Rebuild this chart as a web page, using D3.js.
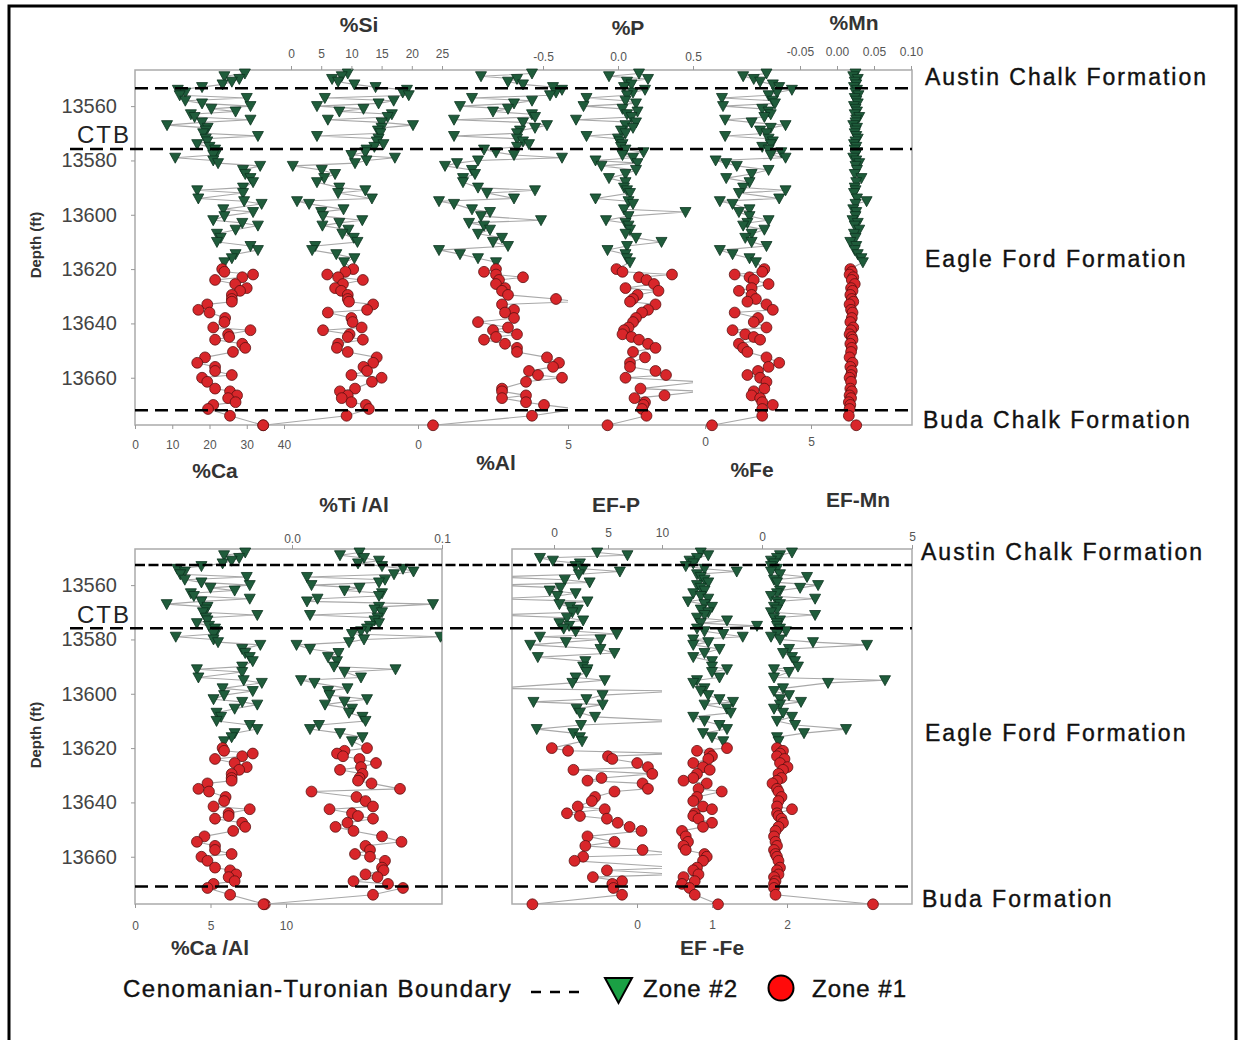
<!DOCTYPE html>
<html>
<head>
<meta charset="utf-8">
<script src="https://cdnjs.cloudflare.com/ajax/libs/d3/7.8.5/d3.min.js"></script>
<style>
body { margin: 0; background: #fff; }
text { font-family: "Liberation Sans", Arial, sans-serif; }
</style>
</head>
<body>
<svg id="chart" width="1239" height="1040"></svg>
<script>
// sample depths (ft), shared by every profile; the deeper ones are zone #1
var depths = [13548, 13549, 13550, 13551, 13552, 13553, 13554, 13555, 13556, 13557,
  13558, 13559, 13560, 13561, 13562, 13563, 13564, 13565, 13566, 13567,
  13568, 13569, 13570, 13571, 13572, 13573, 13574, 13575, 13576, 13577,
  13578, 13579, 13580, 13581, 13582, 13583.5, 13585, 13586.5, 13588, 13590,
  13591, 13592, 13594, 13595, 13596, 13598, 13599, 13600.5, 13602, 13603,
  13604, 13605.5, 13607, 13608.5, 13610, 13611.5, 13613, 13614.5, 13616, 13617.5,
  13620, 13621, 13622, 13623, 13624, 13625.5, 13627, 13628, 13629.5, 13631,
  13632, 13633, 13635, 13636, 13638, 13639.5, 13641.5, 13642.5, 13644, 13645,
  13646, 13647.5, 13649, 13650.5, 13652.5, 13654.5, 13656, 13657.5, 13659, 13660,
  13661.5, 13664, 13665, 13666.5, 13667.5, 13669, 13670, 13671.5, 13674, 13677.5]
var zoneOneTop = 13618.5

var ca = [29.5, 24, 28, 26, 23.5, 18, 11.5, 13.5, 12, 30, 13.5, 18, 31, 20.5, 27, 15, 16, 31, 18, 8.6,
  19.5, 19, 18.3, 33, 19, 19.4, 16.7, 20, 21.5, 22, 21, 10.8, 21, 22.3, 33.6, 29, 29.6, 31, 31.7, 29,
  16.7, 29, 17, 29.3, 34, 23.7, 31.7, 24, 21, 28.8, 33, 27, 22, 23, 22, 31, 33, 27, 26, 24,
  23.4, 24, 31.7, 28.8, 21.5, 26.9, 30, 28.2, 26, 26, 26, 19.4, 17, 20, 24.2, 24, 21, 31, 25, 25.3,
  21.5, 28.8, 29.6, 26.3, 18.8, 16.7, 21.5, 21.5, 26, 18, 19.4, 21.5, 25.5, 27.4, 25, 27, 21, 19.6, 25.5, 34.4]
var si = [9.4, 8.4, 6.8, 7.8, 10.5, 14, 19.2, 18.5, 19.5, 5.6, 17, 14.5, 4.3, 12, 8, 16.7, 16, 6.1, 15, 20.2,
  15, 14.4, 14.8, 4.3, 14.5, 14.2, 15.3, 13.8, 12.5, 12.3, 10, 17.2, 12.5, 10.6, 0.3, 5.1, 7.3, 5.5, 4.3, 8,
  12.3, 7.8, 13.4, 1, 3, 8.7, 5, 5.3, 11.8, 8, 5.2, 9.5, 8.5, 10.4, 11, 4, 3.5, 7.5, 10.5, 8.8,
  10.3, 9, 6, 7.8, 11.9, 8.6, 7.3, 8.3, 9.4, 9.4, 9.6, 13.6, 12.6, 6.1, 10, 10.2, 11.7, 5.3, 9.7, 9.4,
  11.9, 7.8, 7.6, 9.4, 14.2, 13.6, 12, 12.6, 10, 15, 13.4, 10.6, 8.1, 9.4, 8.4, 10, 12.4, 12.9, 9.2, -4.6]
var al = [3.8, 2.1, 3.3, 3.0, 3.5, 4.5, 4.8, 4.6, 4.4, 1.8, 3.8, 3.2, 1.4, 3.0, 2.5, 3.8, 3.9, 1.2, 3.5, 4.3,
  3.9, 3.4, 3.3, 1.2, 3.3, 3.5, 3.7, 3.3, 2.2, 2.6, 3.2, 4.8, 2.0, 1.3, 0.9, 1.8, 1.9, 1.5, 1.5, 2.0,
  3.9, 2.3, 3.2, 0.7, 1.2, 1.8, 2.4, 2.1, 4.1, 1.7, 2.2, 2.4, 2.0, 2.8, 2.5, 3.0, 0.7, 1.4, 2.0, 2.6,
  2.6, 2.2, 2.6, 3.5, 2.7, 2.6, 2.9, 2.8, 3.0, 4.6, 5.3, 2.8, 3.2, 2.9, 3.2, 2.0, 3.0, 2.5, 3.3, 2.6,
  2.2, 2.9, 3.3, 3.3, 4.3, 4.7, 4.5, 3.7, 4.0, 4.8, 3.6, 2.8, 2.8, 3.6, 2.8, 3.6, 4.2, 5.3, 3.8, 0.5]
var p = [0.14, -0.06, 0.20, 0.06, 0.09, 0.04, 0.18, 0.10, 0.06, -0.21, 0.05, 0.12, -0.23, 0.03, 0.13, 0.06, 0.09, -0.28, 0.12, 0.05,
  0.10, 0.02, 0.05, -0.21, 0.00, 0.01, 0.03, 0.02, 0.05, 0.17, 0.03, 0.10, -0.15, 0.13, -0.11, 0.12, 0.05, -0.06, 0.05, 0.04,
  0.06, 0.08, -0.15, 0.07, 0.10, 0.04, 0.45, 0.07, -0.08, 0.05, 0.07, 0.08, 0.05, 0.12, 0.29, 0.06, -0.07, 0.05, 0.06, 0.08,
  -0.01, 0.03, 0.36, 0.14, 0.19, 0.24, 0.05, 0.27, 0.13, 0.10, 0.08, 0.25, 0.20, 0.16, 0.12, 0.10, 0.07, 0.04, 0.03, 0.09,
  0.14, 0.20, 0.25, 0.10, 0.18, 0.08, 0.08, 0.25, 0.32, 0.05, 0.56, 0.15, 0.56, 0.31, 0.11, 0.18, 0.17, 0.16, 0.19, -0.07]
var fe = [2.9, 1.8, 2.3, 2.6, 3.2, 3.5, 4.1, 3.4, 3.0, 0.8, 3.2, 3.3, 0.85, 2.7, 3.0, 3.1, 2.8, 0.95, 2.2, 3.8,
  3.1, 2.6, 2.9, 0.95, 3.0, 3.2, 3.1, 2.7, 3.0, 3.6, 3.1, 3.8, 0.5, 1.0, 1.5, 3.0, 2.2, 1.0, 2.1, 1.8,
  3.8, 1.6, 3.5, 0.7, 1.3, 2.1, 1.6, 2.1, 3.0, 2.0, 1.8, 2.8, 2.2, 1.9, 2.2, 2.9, 0.7, 1.3, 2.1, 2.4,
  2.8, 2.7, 1.4, 2.1, 2.3, 3.0, 2.2, 1.6, 2.2, 2.4, 2.0, 2.9, 3.2, 1.4, 2.5, 2.3, 2.9, 1.3, 1.9, 2.3,
  2.6, 1.6, 1.8, 2.0, 2.9, 3.5, 3.0, 2.5, 2.0, 2.6, 2.9, 2.8, 2.3, 2.2, 2.6, 2.7, 3.2, 2.7, 2.7, 0.33]
var mn = [0.025, 0.022, 0.028, 0.024, 0.026, 0.023, 0.027, 0.025, 0.029, 0.024, 0.026, 0.028, 0.023, 0.025, 0.027, 0.024, 0.03, 0.026, 0.025, 0.022,
  0.027, 0.025, 0.024, 0.026, 0.028, 0.025, 0.023, 0.026, 0.024, 0.027, 0.025, 0.022, 0.026, 0.03, 0.025, 0.027, 0.024, 0.033, 0.026, 0.024,
  0.025, 0.023, 0.027, 0.04, 0.025, 0.022, 0.026, 0.025, 0.021, 0.028, 0.024, 0.03, 0.023, 0.025, 0.018, 0.026, 0.024, 0.028, 0.033, 0.035,
  0.018, 0.02, 0.017, 0.022, 0.02, 0.024, 0.019, 0.021, 0.018, 0.02, 0.022, 0.017, 0.019, 0.021, 0.02, 0.018, 0.022, 0.019, 0.017, 0.02,
  0.021, 0.018, 0.02, 0.019, 0.017, 0.021, 0.018, 0.02, 0.019, 0.017, 0.019, 0.018, 0.02, 0.017, 0.019, 0.016, 0.018, 0.017, 0.016, 0.026]
var caAl = [7.3, 5.9, 6.9, 6.4, 5.8, 4.4, 2.8, 3.3, 3.0, 7.4, 3.3, 4.4, 7.6, 5.0, 6.6, 3.7, 3.9, 7.6, 4.4, 2.1,
  4.8, 4.7, 4.5, 8.1, 4.7, 4.8, 4.1, 4.9, 5.3, 5.4, 5.2, 2.7, 5.2, 5.5, 8.3, 7.1, 7.3, 7.6, 7.8, 7.1,
  4.1, 7.1, 4.2, 7.2, 8.4, 5.8, 7.8, 5.9, 5.2, 7.1, 8.1, 6.6, 5.4, 5.7, 5.4, 7.6, 8.1, 6.6, 6.4, 5.9,
  5.8, 5.9, 7.8, 7.1, 5.3, 6.6, 7.4, 6.9, 6.4, 6.4, 6.4, 4.8, 4.2, 4.9, 6.0, 5.9, 5.2, 7.6, 6.2, 6.2,
  5.3, 7.1, 7.3, 6.5, 4.6, 4.1, 5.3, 5.3, 6.4, 4.4, 4.8, 5.3, 6.3, 6.7, 6.2, 6.6, 5.2, 4.8, 6.3, 8.6]
var tiAl = [0.045, 0.032, 0.048, 0.058, 0.044, 0.06, 0.074, 0.081, 0.068, 0.010, 0.062, 0.058, 0.013, 0.045, 0.035, 0.060, 0.058, 0.017, 0.010, 0.094,
  0.058, 0.055, 0.060, 0.012, 0.057, 0.055, 0.058, 0.052, 0.050, 0.046, 0.040, 0.099, 0.048, 0.038, 0.003, 0.012, 0.031, 0.024, 0.030, 0.028,
  0.069, 0.035, 0.046, 0.006, 0.015, 0.037, 0.024, 0.025, 0.050, 0.035, 0.022, 0.040, 0.038, 0.047, 0.049, 0.018, 0.012, 0.032, 0.047, 0.040,
  0.050, 0.035, 0.030, 0.034, 0.045, 0.056, 0.046, 0.032, 0.047, 0.045, 0.044, 0.053, 0.072, 0.013, 0.043, 0.049, 0.054, 0.025, 0.040, 0.044,
  0.054, 0.037, 0.029, 0.041, 0.060, 0.073, 0.049, 0.052, 0.042, 0.052, 0.062, 0.060, 0.061, 0.049, 0.057, 0.041, 0.064, 0.074, 0.054, -0.019]
var efP = [4.0, 6.8, -1.3, -0.1, 2.4, 2.0, 2.7, 6.1, 2.3, -5.5, 1.0, 3.3, -5.5, 0.6, -0.4, 2.0, 0.3, -5.5, 3.1, 0.5,
  1.5, 2.2, 1.7, -5.5, 1.2, 2.7, 0.5, 1.4, 0.9, 2.0, 5.8, -1.3, 4.3, 1.1, -2.2, 4.3, 5.6, -1.5, 2.9, 2.7,
  3.1, 3.0, 2.0, 4.7, 1.7, -5.5, 11.5, 4.5, 3.0, -1.9, 4.5, 2.1, 2.4, 3.8, 11.5, 2.5, -1.6, 1.8, 2.4, 2.6,
  -0.2, 1.3, 11.5, 5.0, 5.4, 7.7, 8.7, 1.8, 9.1, 4.4, 3.1, 8.2, 8.7, 5.6, 3.8, 3.5, 2.2, 4.7, 1.2, 2.4,
  4.9, 5.9, 7.0, 8.1, 3.1, 5.6, 2.9, 8.2, 11.5, 2.7, 1.9, 11.5, 4.9, 11.5, 3.6, 6.3, 5.4, 5.5, 6.3, -2.0]
var efFe = [0.85, 0.95, 0.8, 0.7, 0.75, 0.65, 0.9, 1.33, 0.8, 0.85, 0.9, 0.95, 0.8, 0.85, 0.9, 0.75, 0.85, 0.95, 0.68, 0.9,
  1.0, 0.85, 0.95, 0.9, 0.8, 1.2, 0.85, 1.6, 0.8, 0.9, 1.15, 1.41, 0.75, 0.95, 0.75, 1.1, 0.9, 0.75, 1.0, 1.0,
  1.2, 1.0, 1.1, 0.8, 0.75, 0.9, 0.85, 0.95, 1.1, 1.28, 0.9, 1.2, 1.25, 0.75, 0.9, 1.1, 1.2, 0.88, 1.0, 1.15,
  1.2, 0.8, 0.97, 1.0, 0.95, 0.75, 0.88, 0.97, 0.8, 0.75, 0.62, 0.93, 0.82, 1.13, 0.8, 0.75, 0.88, 1.0, 0.77, 0.75,
  0.82, 1.0, 0.88, 0.6, 0.65, 0.68, 0.62, 0.65, 0.9, 0.93, 0.88, 0.8, 0.75, 0.82, 0.62, 0.77, 0.6, 0.7, 0.77, 1.08]
var efMn = [1.0, 0.6, 0.5, 0.3, 0.4, 0.3, 0.5, 0.3, 0.6, 1.5, 0.4, 0.5, 1.87, 1.27, 0.6, 0.5, 0.3, 1.77, 0.5, 0.6,
  0.4, 0.5, 0.3, 1.77, 0.4, 0.6, 0.5, 0.5, 0.6, 0.8, 0.5, 0.3, 0.6, 1.7, 3.5, 0.9, 0.7, 1.0, 1.1, 1.2,
  0.4, 0.9, 0.4, 4.1, 2.2, 0.7, 0.4, 0.9, 0.6, 1.3, 0.6, 0.4, 0.7, 1.0, 0.5, 1.1, 2.8, 1.4, 0.5, 0.55,
  0.5, 0.7, 0.6, 0.5, 0.75, 0.6, 0.85, 0.7, 0.55, 0.65, 0.5, 0.35, 0.5, 0.55, 0.65, 0.55, 0.5, 1.0, 0.5, 0.55,
  0.65, 0.7, 0.55, 0.45, 0.4, 0.45, 0.5, 0.4, 0.45, 0.5, 0.55, 0.6, 0.5, 0.55, 0.4, 0.45, 0.4, 0.4, 0.45, 3.7]

// formation boundaries (dashed lines) for each panel
var topBoundaries = [13553.4, 13575.8, 13672]
var bottomBoundaries = [13552.6, 13575.9, 13671]

var depthTicks = [13560, 13580, 13600, 13620, 13640, 13660]
var caTicks = [0, 10, 20, 30, 40]
var siTicks = [0, 5, 10, 15, 20, 25]
var alTicks = [0, 5]
var pTicks = [-0.5, 0, 0.5]
var feTicks = [0, 5]
var mnTicks = [-0.05, 0, 0.05, 0.1]
var caAlTicks = [0, 5, 10]
var tiAlTicks = [0, 0.1]
var efPTicks = [0, 5, 10]
var efFeTicks = [0, 1, 2]
var efMnTicks = [0, 5]

var formationsTop = ["Austin Chalk Formation", "Eagle Ford Formation", "Buda Chalk Formation"]
var formationsBottom = ["Austin Chalk Formation", "Eagle Ford Formation", "Buda Formation"]

var svg = d3.select("#chart")
var defs = svg.append("defs")
var depthDomain = [13546.7, 13677.4]
var yTop = d3.scaleLinear().domain(depthDomain).range([70, 425])
var yBottom = d3.scaleLinear().domain(depthDomain).range([549, 904])

var fmtInt = d3.format("d")
function fixed(n) { return function (v) { return v.toFixed(n) } }

var topTracks = [
  {values: ca, domain: [0, 40], range: [135, 284], side: "bottom", ticks: caTicks, pad: 11, fmt: fmtInt, title: "%Ca", tx: 215, ty: 478},
  {values: si, domain: [0, 25], range: [291, 442], side: "top", ticks: siTicks, pad: 8, fmt: fmtInt, title: "%Si", tx: 359, ty: 32},
  {values: al, domain: [0, 5], range: [418, 568], side: "bottom", ticks: alTicks, pad: 11, fmt: fmtInt, clip: [135, 568], title: "%Al", tx: 496, ty: 470},
  {values: p, domain: [-0.5, 0.5], range: [543, 693], side: "top", ticks: pTicks, pad: 5, fmt: fixed(1), clip: [135, 693], title: "%P", tx: 628, ty: 35},
  {values: fe, domain: [0, 5], range: [705, 811], side: "bottom", ticks: feTicks, pad: 8, fmt: fmtInt, title: "%Fe", tx: 752, ty: 477},
  {values: mn, domain: [-0.05, 0.1], range: [800, 911], side: "top", ticks: mnTicks, pad: 10, fmt: fixed(2), title: "%Mn", tx: 854, ty: 30}
]
var bottomTracks = [
  {values: caAl, domain: [0, 10], range: [135, 286], side: "bottom", ticks: caAlTicks, pad: 13, fmt: fmtInt, clip: [135, 442], title: "%Ca /Al", tx: 210, ty: 955},
  {values: tiAl, domain: [0, 0.1], range: [292, 442], side: "top", ticks: tiAlTicks, pad: 2, fmt: fixed(1), clip: [135, 442], title: "%Ti /Al", tx: 354, ty: 512},
  {values: efP, domain: [0, 10], range: [554, 662], side: "top", ticks: efPTicks, pad: 8, fmt: fmtInt, clip: [512, 662], title: "EF-P", tx: 616, ty: 512},
  {values: efFe, domain: [0, 2], range: [637, 787], side: "bottom", ticks: efFeTicks, pad: 12, fmt: fmtInt, clip: [512, 912], title: "EF -Fe", tx: 712, ty: 955},
  {values: efMn, domain: [0, 5], range: [762, 912], side: "top", ticks: efMnTicks, pad: 4, fmt: fmtInt, clip: [512, 912], title: "EF-Mn", tx: 858, ty: 507}
]

var clipCount = 0
function clipUrl(x0, x1, y0, y1) {
  var id = "clip" + (clipCount++)
  defs.append("clipPath").attr("id", id).append("rect")
    .attr("x", x0).attr("y", y0 - 8).attr("width", x1 - x0).attr("height", y1 - y0 + 16)
  return "url(#" + id + ")"
}

var triangle = "M-5.5,-4.5L5.5,-4.5L0,5.5Z"
var circle = d3.symbol(d3.symbolCircle, 92)()

function drawBox(x0, x1, y0, y1) {
  svg.append("rect").attr("x", x0).attr("y", y0).attr("width", x1 - x0).attr("height", y1 - y0)
    .attr("fill", "none").attr("stroke", "#aaa").attr("stroke-width", 1.5)
}

function drawTrack(t, y) {
  var x = d3.scaleLinear().domain(t.domain).range(t.range)
  var y0 = y.range()[0], y1 = y.range()[1]
  var pts = depths.map(function (d, i) { return {depth: d, value: t.values[i]} })
  var g = svg.append("g")
  if (t.clip) g.attr("clip-path", clipUrl(t.clip[0], t.clip[1], y0, y1))
  g.append("path").datum(pts)
    .attr("d", d3.line().x(function (d) { return x(d.value) }).y(function (d) { return y(d.depth) }))
    .attr("fill", "none").attr("stroke", "#a8a8a8").attr("stroke-width", 1.1)
  g.selectAll(".mark").data(pts).join("path")
    .attr("transform", function (d) { return "translate(" + x(d.value) + "," + y(d.depth) + ")" })
    .attr("d", function (d) { return d.depth < zoneOneTop ? triangle : circle })
    .attr("fill", function (d) { return d.depth < zoneOneTop ? "#1f5c3b" : "#d8262a" })
    .attr("stroke", function (d) { return d.depth < zoneOneTop ? "#0c3320" : "#5c1010" })
    .attr("stroke-width", 0.8)

  var axis = (t.side == "top" ? d3.axisTop(x) : d3.axisBottom(x))
    .tickValues(t.ticks).tickSize(4).tickPadding(t.pad).tickFormat(t.fmt)
  var ag = svg.append("g").attr("transform", "translate(0," + (t.side == "top" ? y0 : y1) + ")").call(axis)
  ag.select(".domain").remove()
  ag.attr("font-size", 12).attr("font-family", "Liberation Sans, Arial, sans-serif")
  ag.selectAll("line").attr("stroke", "#999")
  ag.selectAll("text").attr("fill", "#555")

  svg.append("text").attr("x", t.tx).attr("y", t.ty).attr("text-anchor", "middle")
    .attr("font-size", 21).attr("font-weight", "bold").attr("fill", "#333").text(t.title)
}

function drawDepthAxis(y, labelY) {
  var ag = svg.append("g").attr("transform", "translate(135,0)")
    .call(d3.axisLeft(y).tickValues(depthTicks).tickSize(4).tickPadding(14).tickFormat(fmtInt))
  ag.select(".domain").remove()
  ag.attr("font-size", 20).attr("font-family", "Liberation Sans, Arial, sans-serif")
  ag.selectAll("line").attr("stroke", "#999")
  ag.selectAll("text").attr("fill", "#444")
  svg.append("text").attr("transform", "translate(41," + labelY + ") rotate(-90)")
    .attr("text-anchor", "middle").attr("font-size", 15).attr("font-weight", "bold").attr("fill", "#333")
    .text("Depth (ft)")
}

function drawBoundaries(y, list, dashTop) {
  list.forEach(function (d, i) {
    svg.append("line").attr("x1", i == 1 ? 70 : 135).attr("x2", 912)
      .attr("y1", y(d)).attr("y2", y(d))
      .attr("stroke", "#000").attr("stroke-width", 2.5)
      .attr("stroke-dasharray", i == 0 ? dashTop : "13,7")
  })
}

function label(x, y, s, size, spacing) {
  svg.append("text").attr("x", x).attr("y", y).attr("font-size", size)
    .attr("letter-spacing", spacing).attr("fill", "#111").attr("stroke", "#111").attr("stroke-width", 0.4)
    .text(s)
}

// outer frame
svg.append("path").attr("d", "M9,1040V6H1236V1040").attr("fill", "none").attr("stroke", "#000").attr("stroke-width", 3)

// upper panel
drawBox(135, 912, 70, 425)
topTracks.forEach(function (t) { drawTrack(t, yTop) })
drawDepthAxis(yTop, 245)
drawBoundaries(yTop, topBoundaries, "13,7")

// lower panel
drawBox(135, 442, 549, 904)
drawBox(512, 912, 549, 904)
bottomTracks.forEach(function (t) { drawTrack(t, yBottom) })
drawDepthAxis(yBottom, 735)
drawBoundaries(yBottom, bottomBoundaries, "10,3.5")

// CTB tags
svg.append("text").attr("x", 77).attr("y", 143).attr("font-family", "Noto Sans").attr("font-size", 24)
  .attr("letter-spacing", 2).attr("fill", "#222").text("CTB")
svg.append("text").attr("x", 77).attr("y", 623).attr("font-family", "Noto Sans").attr("font-size", 24)
  .attr("letter-spacing", 2).attr("fill", "#222").text("CTB")

// formation names
label(925, 85, formationsTop[0], 23, 2)
label(925, 267, formationsTop[1], 23, 2)
label(923, 428, formationsTop[2], 23, 2)
label(921, 560, formationsBottom[0], 23, 2)
label(925, 741, formationsBottom[1], 23, 2)
label(922, 907, formationsBottom[2], 23, 2)

// legend
label(123, 997, "Cenomanian-Turonian Boundary", 24, 1.5)
svg.append("line").attr("x1", 531).attr("x2", 588).attr("y1", 992).attr("y2", 992)
  .attr("stroke", "#000").attr("stroke-width", 2.5).attr("stroke-dasharray", "10,9")
svg.append("path").attr("d", "M605,978L632,978L618.5,1003Z").attr("fill", "#1aa044").attr("stroke", "#000").attr("stroke-width", 2)
label(643, 997, "Zone #2", 24, 1)
svg.append("circle").attr("cx", 781).attr("cy", 988).attr("r", 12.5).attr("fill", "#ff0a0a").attr("stroke", "#000").attr("stroke-width", 2)
label(812, 997, "Zone #1", 24, 1)
</script>
</body>
</html>
